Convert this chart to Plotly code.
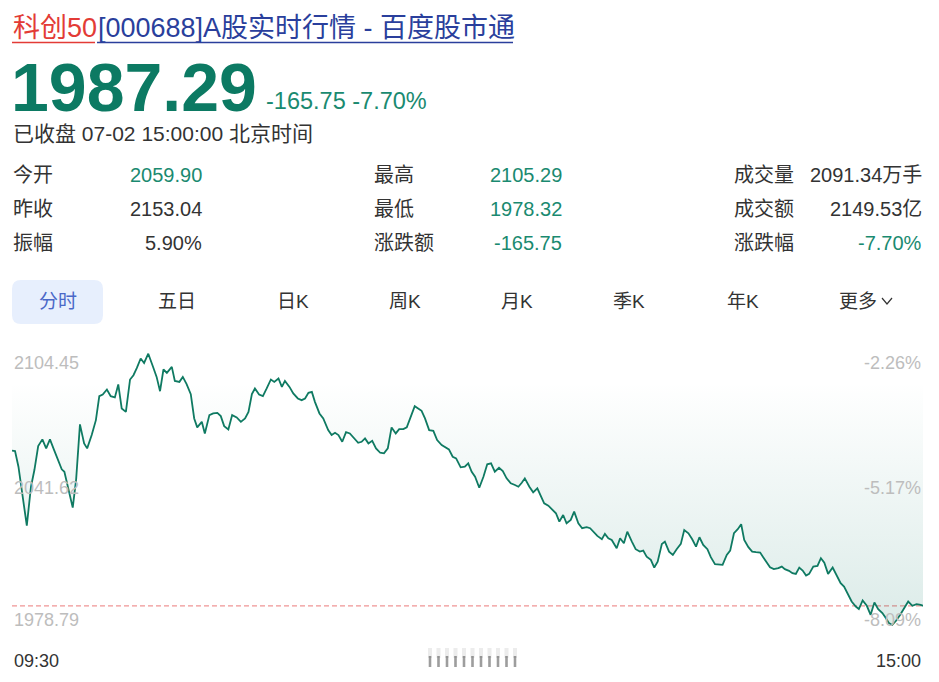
import plotly.graph_objects as go

# ---------------- data ----------------
title_name = "科创50"
title_rest = "[000688]A股实时行情 - 百度股市通"
last_price = "1987.29"
change_text = "-165.75 -7.70%"
status_text = "已收盘 07-02 15:00:00 北京时间"
prev_close = 2153.04

stat_labels = [["今开", "昨收", "振幅"], ["最高", "最低", "涨跌额"], ["成交量", "成交额", "涨跌幅"]]
stat_values = [["2059.90", "2153.04", "5.90%"], ["2105.29", "1978.32", "-165.75"], ["2091.34万手", "2149.53亿", "-7.70%"]]
stat_green = [[True, False, False], [True, True, True], [False, False, True]]

tabs = ["分时", "五日", "日K", "周K", "月K", "季K", "年K", "更多"]

price_ticks = [2104.45, 2041.62, 1978.79]
price_tick_text = ["2104.45", "2041.62", "1978.79"]
pct_tick_text = ["-2.26%", "-5.17%", "-8.09%"]
time_labels = ["09:30", "15:00"]

# minutes since 09:30 on the trading clock (0..240, lunch break removed)
minutes = [
    0.0, 0.8, 1.7, 2.8, 3.9, 5.0, 5.9, 6.9, 8.0, 9.0, 10.0, 11.1, 12.2, 13.1, 13.8, 14.8, 16.0, 16.9, 17.9, 19.0,
    19.8, 21.0, 22.1, 23.0, 23.9, 25.0, 26.0, 27.1, 28.0, 28.9, 30.0, 31.1, 32.0, 32.9, 33.9, 34.8, 35.9, 37.1, 38.1, 39.0,
    39.9, 40.8, 42.1, 42.9, 44.1, 45.0, 46.0, 47.1, 48.0, 48.8, 50.0, 50.8, 52.0, 53.0, 54.1, 55.0, 55.9, 57.0, 58.0, 59.2,
    60.3, 61.4, 62.3, 63.2, 64.0, 65.1, 66.1, 67.1, 68.2, 69.1, 70.2, 71.1, 71.9, 73.1, 74.1, 75.3, 76.3, 77.2, 78.1, 79.0,
    79.8, 81.0, 82.0, 83.3, 84.2, 85.1, 86.0, 87.0, 88.0, 89.0, 90.1, 91.2, 92.1, 93.0, 93.9, 94.9, 95.9, 97.0, 98.0, 99.0,
    100.0, 101.1, 102.0, 103.1, 104.0, 105.0, 106.1, 107.0, 107.9, 108.8, 109.9, 111.0, 112.0, 113.2, 114.1, 115.1, 116.1, 117.0, 118.2, 119.3,
    120.2, 121.1, 122.0, 123.1, 124.2, 125.2, 126.2, 127.2, 128.3, 129.3, 130.3, 131.4, 132.5, 133.4, 134.3, 135.1, 136.3, 137.3, 138.4, 139.3,
    140.2, 141.3, 142.3, 143.3, 144.2, 145.2, 146.1, 147.2, 148.1, 149.2, 150.2, 151.4, 152.3, 153.1, 154.2, 155.4, 156.2, 157.1, 158.0, 159.3,
    160.2, 161.2, 162.1, 163.3, 164.3, 165.4, 166.3, 167.2, 168.3, 169.2, 170.1, 171.2, 172.0, 173.1, 174.1, 175.1, 176.2, 177.1, 178.2, 179.2,
    180.2, 181.1, 182.1, 183.2, 184.1, 185.2, 186.3, 187.2, 188.3, 189.2, 190.2, 191.2, 192.1, 192.9, 194.0, 195.0, 196.0, 197.1, 197.9, 198.8,
    199.7, 200.7, 201.9, 202.8, 203.6, 204.7, 205.6, 206.5, 207.4, 208.3, 209.2, 210.0, 211.1, 212.2, 213.1, 214.0, 215.0, 216.2, 217.3, 218.3,
    219.2, 220.1, 221.2, 222.3, 223.1, 224.1, 225.2, 226.2, 227.2, 228.2, 229.3, 230.2, 231.0, 231.9, 232.9, 234.0, 235.0, 236.1, 237.2, 238.3,
    239.4, 240.0,
]
prices = [
    2059.90, 2059.72, 2052.39, 2038.37, 2024.81, 2043.04, 2050.84, 2062.06, 2065.19, 2060.98, 2065.19, 2060.19, 2055.19, 2051.17, 2050.05, 2041.82, 2033.23, 2046.50, 2072.20, 2063.32,
    2060.98, 2067.20, 2074.21, 2085.42, 2086.22, 2088.55, 2085.42, 2084.82, 2090.89, 2079.68, 2078.09, 2093.23, 2095.24, 2098.65, 2103.04, 2100.98, 2105.29, 2099.44, 2094.44, 2087.76,
    2097.90, 2096.31, 2099.12, 2092.57, 2092.11, 2094.44, 2091.03, 2086.36, 2075.00, 2070.80, 2073.41, 2067.99, 2076.54, 2077.34, 2077.62, 2076.08, 2071.40, 2069.86, 2076.54, 2075.47,
    2073.41, 2075.00, 2078.09, 2086.36, 2089.02, 2086.22, 2085.42, 2089.02, 2093.23, 2092.11, 2093.69, 2089.77, 2092.57, 2089.77, 2086.68, 2084.35, 2083.55, 2084.35, 2086.96, 2087.43,
    2082.76, 2077.34, 2075.00, 2069.53, 2067.20, 2068.27, 2067.20, 2064.07, 2068.60, 2067.99, 2065.66, 2063.60, 2064.07, 2065.66, 2063.32, 2064.54, 2060.98, 2058.93, 2058.65, 2060.98,
    2070.80, 2067.99, 2070.00, 2070.00, 2070.80, 2075.75, 2080.75, 2079.68, 2078.55, 2075.00, 2069.53, 2069.21, 2064.86, 2062.53, 2061.73, 2060.52, 2057.06, 2056.31, 2052.11, 2052.39,
    2053.97, 2050.05, 2047.71, 2042.57, 2047.71, 2053.51, 2053.97, 2050.05, 2051.92, 2050.38, 2046.96, 2044.63, 2043.83, 2043.04, 2044.91, 2046.96, 2043.04, 2040.42, 2042.29, 2039.16,
    2035.28, 2034.16, 2032.48, 2030.61, 2026.68, 2029.81, 2025.94, 2027.48, 2031.36, 2025.94, 2023.60, 2024.07, 2023.60, 2022.01, 2020.00, 2018.46, 2020.94, 2018.93, 2018.13, 2014.25,
    2018.93, 2016.59, 2022.01, 2017.34, 2013.79, 2012.66, 2013.13, 2010.33, 2008.79, 2005.19, 2007.99, 2016.26, 2017.34, 2012.66, 2011.12, 2013.79, 2016.26, 2022.80, 2021.26, 2018.46,
    2015.00, 2019.39, 2015.80, 2013.79, 2010.05, 2006.78, 2006.45, 2006.45, 2011.12, 2013.13, 2021.26, 2023.13, 2025.47, 2018.13, 2014.72, 2012.66, 2012.38, 2012.20, 2010.05, 2007.52,
    2005.37, 2004.44, 2004.91, 2005.66, 2004.44, 2003.65, 2002.57, 2002.24, 2005.19, 2003.79, 2001.45, 2002.24, 2005.66, 2005.98, 2009.58, 2007.52, 2002.24, 2005.19, 2000.98, 1997.90,
    1996.31, 1992.90, 1989.30, 1986.96, 1985.75, 1989.77, 1987.29, 1983.08, 1988.83, 1985.75, 1983.88, 1981.54, 1979.21, 1978.32, 1980.28, 1983.08, 1985.75, 1989.30, 1987.29, 1988.08,
    1987.76, 1987.29,
]

# ---------------- styling / layout ----------------
W, H = 939, 682
ML, MR, MT, MB = 12, 16, 349, 51
PW, PH = W - ML - MR, H - MT - MB
Y_RANGE = [1975.5, 2107.5]

FONT = "Liberation Sans, Arial, Noto Sans CJK SC, sans-serif"
GREEN_BIG = "#0c7a63"
GREEN = "#1a8a70"
LINE = "#0f7a62"
DARK = "#333333"
GRAY = "#bdbdbd"
RED = "#e33b36"
BLUE = "#2a3f9c"


def px(x):
    return (x - ML) / PW


def py(y):
    return (H - MB - y) / PH


fig = go.Figure()

# upper boundary of shaded area (previous close, above the visible range)
fig.add_trace(go.Scatter(
    x=[minutes[0], minutes[-1]], y=[prev_close, prev_close], mode="lines",
    line=dict(width=0, color="rgba(0,0,0,0)"), hoverinfo="skip", showlegend=False,
))
fig.add_trace(go.Scatter(
    x=minutes, y=prices, mode="lines",
    line=dict(color=LINE, width=1.8),
    fill="tonexty",
    fillgradient=dict(
        type="vertical",
        colorscale=[[0, "rgba(20,125,105,0.15)"], [1, "rgba(20,125,105,0)"]],
        start=min(prices), stop=2092,
    ),
    hoverinfo="skip", showlegend=False,
))

shapes = []
annotations = []

# dashed line at latest price
shapes.append(dict(type="line", xref="paper", yref="y", x0=0, x1=1, y0=prices[-1], y1=prices[-1],
                   line=dict(color="rgba(236,130,130,0.85)", width=1.3, dash="5px,3px"), layer="below"))


def txt(x, y, text, size, color, xanchor="left", bold=False, yanchor="middle", height=None):
    if bold:
        text = "<b>" + text + "</b>"
    a = dict(x=px(x), y=py(y), xref="paper", yref="paper", text=text, showarrow=False,
             xanchor=xanchor, yanchor=yanchor,
             font=dict(family=FONT, size=size, color=color))
    if height is not None:
        a["height"] = height
    annotations.append(a)


# title
txt(11, 28, title_name, 27, RED)
txt(96, 28, title_rest, 27, BLUE)
shapes.append(dict(type="line", xref="paper", yref="paper", x0=px(12), x1=px(95), y0=py(42.5), y1=py(42.5),
                   line=dict(color=RED, width=1.6)))
shapes.append(dict(type="line", xref="paper", yref="paper", x0=px(97), x1=px(513), y0=py(42.5), y1=py(42.5),
                   line=dict(color=BLUE, width=1.6)))

# price header
txt(9, 87, last_price, 68, GREEN_BIG, bold=True, height=64)
txt(264, 101, change_text, 23.5, GREEN)
txt(11, 133, status_text, 21, DARK)

# stats
row_y = [175, 209, 243]
label_x = [11, 372, 732]
value_x = [204, 564, 924]
for c in range(3):
    for r in range(3):
        txt(label_x[c], row_y[r], stat_labels[c][r], 20, DARK)
        txt(value_x[c], row_y[r], stat_values[c][r], 20, GREEN if stat_green[c][r] else DARK, xanchor="right")

# tabs
tab_x = [58, 177, 293, 405, 517, 629, 743, 858]
r_ = 9
x0, x1, y0, y1 = 12, 103, 280, 324
path = (f"M {px(x0 + r_)},{py(y0)} L {px(x1 - r_)},{py(y0)} Q {px(x1)},{py(y0)} {px(x1)},{py(y0 + r_)} "
        f"L {px(x1)},{py(y1 - r_)} Q {px(x1)},{py(y1)} {px(x1 - r_)},{py(y1)} "
        f"L {px(x0 + r_)},{py(y1)} Q {px(x0)},{py(y1)} {px(x0)},{py(y1 - r_)} "
        f"L {px(x0)},{py(y0 + r_)} Q {px(x0)},{py(y0)} {px(x0 + r_)},{py(y0)} Z")
shapes.append(dict(type="path", xref="paper", yref="paper", path=path, fillcolor="#e7effd",
                   line=dict(width=0), layer="below"))
for i, t in enumerate(tabs):
    txt(tab_x[i], 301, t, 19, "#4a68c8" if i == 0 else DARK, xanchor="center")
# chevron after 更多
shapes.append(dict(type="path", xref="paper", yref="paper",
                   path=f"M {px(882)},{py(298)} L {px(887)},{py(304)} L {px(892)},{py(298)}",
                   line=dict(color=DARK, width=1.2)))

# axis labels
shifts = [-7, 2, 4]
for v, lt, rt, s in zip(price_ticks, price_tick_text, pct_tick_text, shifts):
    annotations.append(dict(x=0, y=v, xref="paper", yref="y", text=lt, showarrow=False, xanchor="left",
                            yanchor="middle", yshift=s, font=dict(family=FONT, size=18, color=GRAY)))
    annotations.append(dict(x=1, y=v, xref="paper", yref="y", text=rt, showarrow=False, xanchor="right",
                            yanchor="middle", yshift=s, font=dict(family=FONT, size=18, color=GRAY)))
annotations.append(dict(x=0, y=py(661), xref="paper", yref="paper", text=time_labels[0], showarrow=False,
                        xanchor="left", yanchor="middle", font=dict(family=FONT, size=18, color=DARK)))
annotations.append(dict(x=1, y=py(661), xref="paper", yref="paper", text=time_labels[1], showarrow=False,
                        xanchor="right", yanchor="middle", font=dict(family=FONT, size=18, color=DARK)))

# blurred middle time label
for k in range(11):
    bx = 430 + k * 8.5
    shapes.append(dict(type="rect", xref="paper", yref="paper", x0=px(bx - 2), x1=px(bx + 2),
                       y0=py(658), y1=py(648), fillcolor="rgba(120,120,120,0.14)", line=dict(width=0)))
    shapes.append(dict(type="rect", xref="paper", yref="paper", x0=px(bx - 1.3), x1=px(bx + 1.3),
                       y0=py(667), y1=py(656), fillcolor="rgba(60,60,60,0.5)", line=dict(width=0)))

fig.update_layout(
    width=W, height=H,
    margin=dict(l=ML, r=MR, t=MT, b=MB, pad=0),
    paper_bgcolor="white", plot_bgcolor="white",
    xaxis=dict(range=[0, 240], visible=False, fixedrange=True),
    yaxis=dict(range=Y_RANGE, visible=False, fixedrange=True),
    shapes=shapes, annotations=annotations, showlegend=False,
)

fig.write_html("out.html", config={"displayModeBar": False})
